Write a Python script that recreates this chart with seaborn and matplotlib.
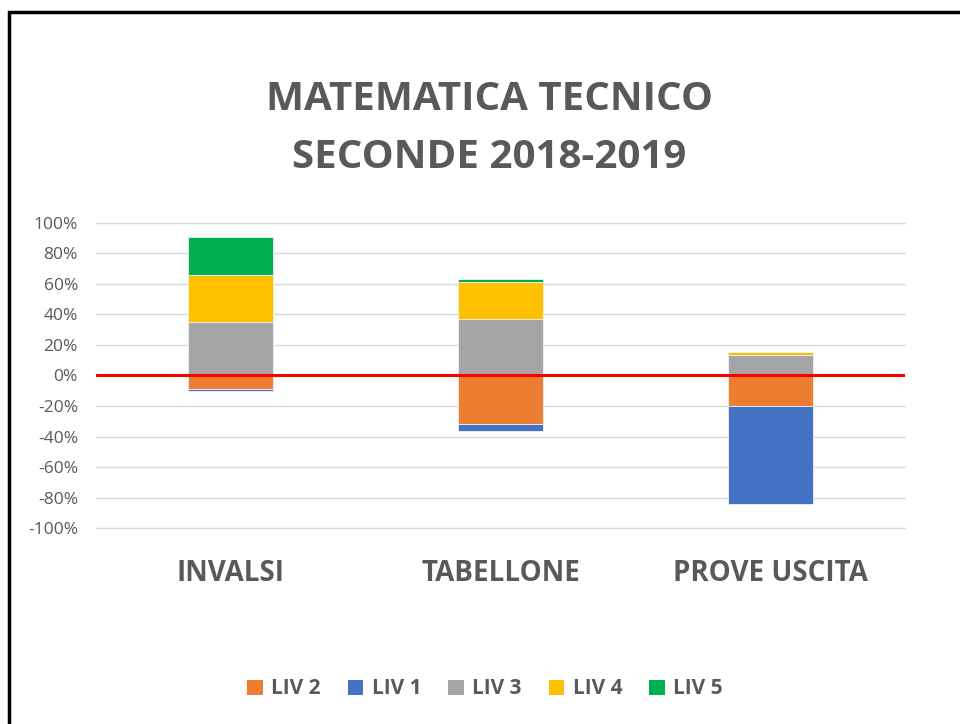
import matplotlib
matplotlib.use("Agg")
import matplotlib.pyplot as plt
import seaborn as sns
import numpy as np
from matplotlib.patches import Patch, Rectangle

categories = ["INVALSI", "TABELLONE", "PROVE USCITA"]
liv1 = [-1.0, -5.0, -64.0]
liv2 = [-9.0, -31.6, -20.0]
liv3 = [35.2, 37.0, 13.3]
liv4 = [30.3, 24.1, 2.4]
liv5 = [24.9, 2.2, 0.0]
yticks = [-100, -80, -60, -40, -20, 0, 20, 40, 60, 80, 100]

colors = {"LIV 2": "#ED7D31", "LIV 1": "#4472C4", "LIV 3": "#A5A5A5",
          "LIV 4": "#FFC000", "LIV 5": "#00B050"}
text_col = "#595959"

sns.set_theme(style="white")
plt.rcParams["font.family"] = ["Open Sans", "DejaVu Sans"]

fig = plt.figure(figsize=(9.6, 7.24), dpi=100)
ax = fig.add_axes([96/960, 1-528.3/724, (905-96)/960, (528.3-222.7)/724])

a1, a2, a3, a4, a5 = (np.array(v) for v in (liv1, liv2, liv3, liv4, liv5))
w = 0.315
kw = dict(width=w, ax=ax, saturation=1, zorder=3, linewidth=0.6, edgecolor="#F2F2F2")
sns.barplot(x=categories, y=a2, color=colors["LIV 2"], **kw)
sns.barplot(x=categories, y=a1, bottom=a2, color=colors["LIV 1"], **kw)
sns.barplot(x=categories, y=a3, color=colors["LIV 3"], **kw)
sns.barplot(x=categories, y=a4, bottom=a3, color=colors["LIV 4"], **kw)
sns.barplot(x=categories, y=a5, bottom=a3 + a4, color=colors["LIV 5"], **kw)

ax.set_ylim(-100, 100)
ax.set_xlim(-0.5, 2.5)
ax.set_yticks(yticks)
ax.set_yticklabels([f"{t}%" for t in yticks], fontsize=12.5, color=text_col)
ax.tick_params(axis="y", length=0, pad=13)
ax.tick_params(axis="x", length=0, pad=22)
for lbl in ax.get_xticklabels():
    lbl.set_fontsize(20)
    lbl.set_fontweight("bold")
    lbl.set_color(text_col)
ax.set_xlabel("")
ax.set_ylabel("")
for s in ax.spines.values():
    s.set_visible(False)
for t in yticks:
    if t != 0:
        ax.axhline(t, color="#D9D9D9", lw=1, zorder=0, clip_on=False)
ax.axhline(0, color="#FF0000", lw=2.2, zorder=5)

fig.text(490/960, 1-99/724, "MATEMATICA TECNICO", ha="center", va="center",
         fontsize=29, fontweight="bold", color=text_col)
fig.text(489/960, 1-157/724, "SECONDE 2018-2019", ha="center", va="center",
         fontsize=29, fontweight="bold", color=text_col)

order = ["LIV 2", "LIV 1", "LIV 3", "LIV 4", "LIV 5"]
handles = [Patch(facecolor=colors[k], edgecolor="none", label=k) for k in order]
fig.legend(handles=handles, loc="center", bbox_to_anchor=(485/960, 1-689/724), ncol=5,
           frameon=False, prop={"size": 15, "weight": "bold"}, labelcolor=text_col,
           handlelength=0.75, handleheight=0.75, handletextpad=0.4, columnspacing=1.3)

fig.patches.append(Rectangle((8.5/960, -0.05), 1.1, 1-11.5/724 + 0.05, transform=fig.transFigure,
                             fill=False, edgecolor="black", lw=2.5, figure=fig))

fig.savefig("out.png", dpi=100)
